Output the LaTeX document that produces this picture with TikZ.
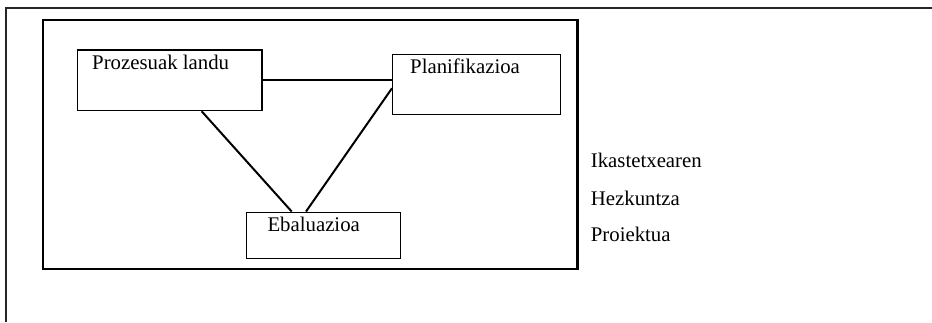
\documentclass[tikz,border=0pt]{standalone}
\usepackage{fontspec}
\setmainfont{Liberation Serif}
\usetikzlibrary{calc}
\tikzset{
  box/.style={draw, line width=1.5pt, inner sep=0pt, rectangle},
  link/.style={line width=2pt},
  lbl/.style={anchor=base west, inner sep=0pt, font=\fontsize{20.8}{25}\selectfont},
  frameline/.style={line width=1.3pt, draw=black!85},
}
\begin{document}
\begin{tikzpicture}[x=1pt, y=-1pt]
  \useasboundingbox (0,0) rectangle (932,322);
  % outer page frame (top and left edges)
  \coordinate (fa) at (932,8);
  \coordinate (fc) at (6,8);
  \coordinate (fb) at (6,322);
  \draw[frameline] (fa) -- (fc) -- (fb);
  % surrounding box
  \node[draw, line width=2.3pt, inner sep=0pt, minimum width=534.8pt, minimum height=249pt] (outer) at (310.1,144.5) {};
  % the three boxes
  \node[box, minimum width=184.3pt, minimum height=60.5pt] (pz) at (169.85,80.25) {};
  \node[box, minimum width=168pt, minimum height=60pt] (plan) at (476.7,84.7) {};
  \node[box, minimum width=154pt, minimum height=46pt] (ev) at (323.7,235.3) {};
  % box captions
  \node[lbl] (pzt) at (92,69) {Prozesuak landu};
  \node[lbl] (plant) at (410,73) {Planifikazioa};
  \node[lbl] (evt) at (267.3,231.7) {Ebaluazioa};
  % connectors
  \draw[link] (pz.east |- 0,80) -- (plan.west |- 0,80);
  \draw[link] ($(pz.south)+(31.8,0)$) -- ($(ev.north)+(-32,0)$);
  \draw[link] ($(plan.west)+(0,3.6)$) -- ($(ev.north)+(-17.7,0)$);
  % side caption
  \node[lbl] (s1) at (590.7,167.7) {Ikastetxearen};
  \node[lbl] (s2) at (590.7,205) {Hezkuntza};
  \node[lbl] (s3) at (590.7,241.7) {Proiektua};
\end{tikzpicture}
\end{document}
